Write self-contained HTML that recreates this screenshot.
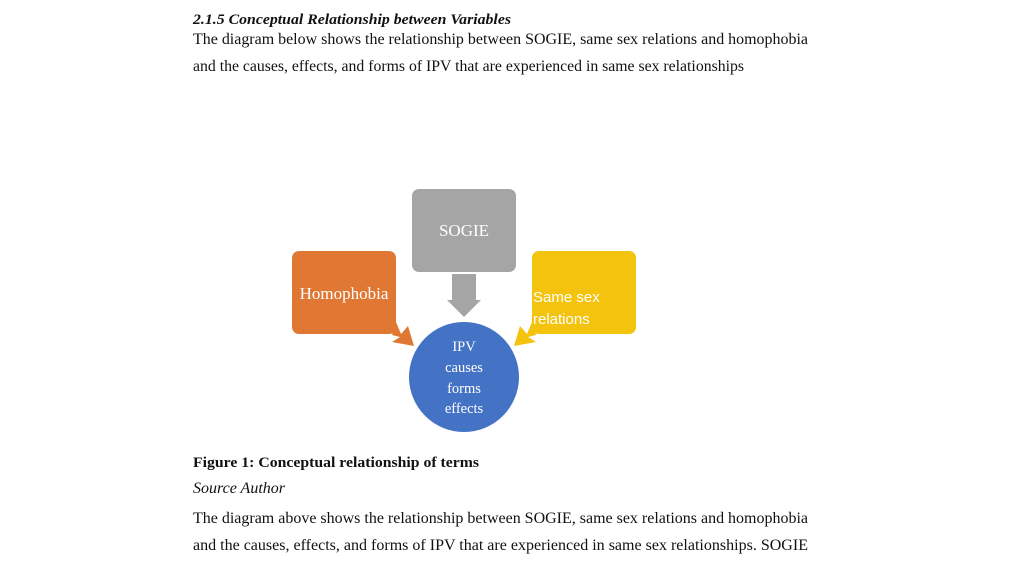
<!DOCTYPE html>
<html><head><meta charset="utf-8"><style>
html,body{margin:0;padding:0;background:#fff;width:1024px;height:576px;overflow:hidden}
svg{display:block}
text{font-family:"Liberation Serif",serif;fill:#111}
</style></head><body>
<svg width="1024" height="576" viewBox="0 0 1024 576">
<text x="193" y="24" font-size="15" font-weight="bold" font-style="italic" textLength="318" lengthAdjust="spacingAndGlyphs">2.1.5 Conceptual Relationship between Variables</text>
<text x="193" y="44" font-size="15.5" textLength="615" lengthAdjust="spacingAndGlyphs">The diagram below shows the relationship between SOGIE, same sex relations and homophobia</text>
<text x="193" y="71" font-size="15.5" textLength="551" lengthAdjust="spacingAndGlyphs">and the causes, effects, and forms of IPV that are experienced in same sex relationships</text>

<rect x="412" y="189" width="104" height="83" rx="7" fill="#a5a5a5"/>
<text x="464" y="236" font-size="17" text-anchor="middle" style="fill:#fff">SOGIE</text>
<polygon points="452,274 476,274 476,300 481,300 464,317 447,300 452,300" fill="#a5a5a5"/>

<rect x="292" y="251" width="104" height="83" rx="7" fill="#e07834"/>
<text x="344" y="299" font-size="17" text-anchor="middle" style="fill:#fff">Homophobia</text>
<polygon points="396,322 401,334 408,326 414,346 392,342 400,337 392,335" fill="#e07834"/>

<rect x="532" y="251" width="104" height="83" rx="7" fill="#f3c30d"/>
<text x="533" y="302" font-size="15" style="fill:#fff;font-family:'Liberation Sans',sans-serif">Same sex</text>
<text x="533" y="324" font-size="15" style="fill:#fff;font-family:'Liberation Sans',sans-serif">relations</text>
<polygon points="532,322 527,334 520,326 514,346 536,342 528,337 536,335" fill="#f3c30d"/>

<circle cx="464" cy="377" r="55" fill="#4472c4"/>
<g font-size="14.5" text-anchor="middle">
<text x="464" y="351" style="fill:#fff">IPV</text>
<text x="464" y="372" style="fill:#fff">causes</text>
<text x="464" y="393" style="fill:#fff">forms</text>
<text x="464" y="413" style="fill:#fff">effects</text>
</g>

<text x="193" y="467" font-size="15" font-weight="bold" textLength="286" lengthAdjust="spacingAndGlyphs">Figure 1: Conceptual relationship of terms</text>
<text x="193" y="493" font-size="15.5" font-style="italic" textLength="92" lengthAdjust="spacingAndGlyphs">Source Author</text>
<text x="193" y="523" font-size="15.5" textLength="615" lengthAdjust="spacingAndGlyphs">The diagram above shows the relationship between SOGIE, same sex relations and homophobia</text>
<text x="193" y="550" font-size="15.5" textLength="615" lengthAdjust="spacingAndGlyphs">and the causes, effects, and forms of IPV that are experienced in same sex relationships. SOGIE</text>
</svg>
</body></html>
